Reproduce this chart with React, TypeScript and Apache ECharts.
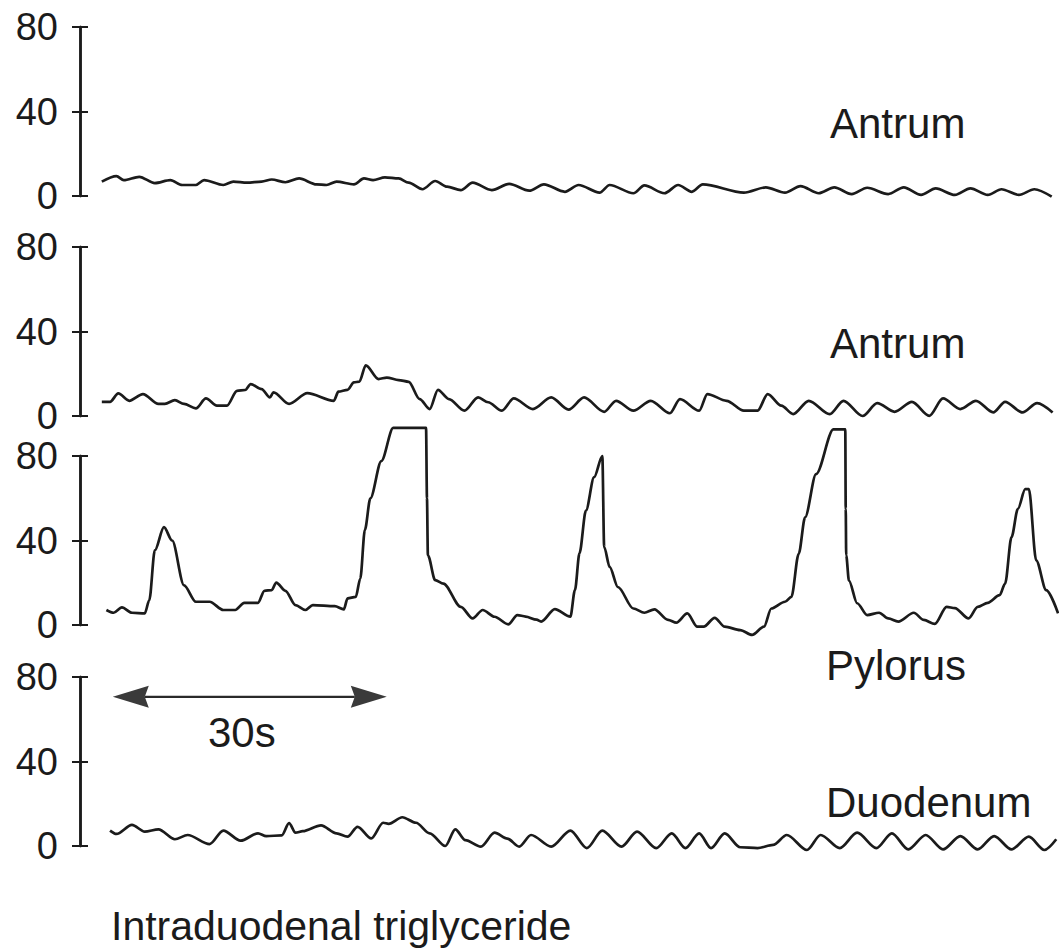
import React, { useEffect, useRef } from "react";
import * as echarts from "echarts";

// ---- data ----
const panelNames = ["Antrum", "Antrum", "Pylorus", "Duodenum"];
const yTicks = [0, 40, 80];
const timeSpan = [0, 105]; // seconds
const scaleBarStart = 1.4; // s
const scaleBarSeconds = 30;
const scaleBarLevel = 70.6; // mmHg, in duodenum panel
const scaleBarLabel = "30s";
const footnote = "Intraduodenal triglyceride";

// [time (s), pressure (mmHg)]
const antrum1: [number, number][] = [
  [0.2, 6.8], [1.8, 9.4], [2.6, 7.5], [4.3, 9.1], [6.0, 6.1], [7.7, 7.5], [9.0, 5.2], [10.5, 5.2],
  [11.4, 7.5], [13.5, 5.2], [14.6, 6.8], [16.1, 6.3], [17.7, 6.8], [18.8, 7.8], [20.3, 6.5], [21.8, 8.3],
  [23.7, 5.5], [24.8, 5.2], [25.9, 6.8], [27.8, 5.5], [28.9, 8.3], [29.9, 7.5], [31.2, 8.8], [32.7, 8.3],
  [33.8, 6.3], [35.3, 3.2], [36.7, 7.1], [38.0, 4.4], [39.5, 2.8], [40.8, 6.3], [42.9, 2.8], [44.8, 5.7],
  [47.0, 2.5], [48.6, 5.5], [50.9, 2.0], [52.4, 5.2], [54.7, 1.6], [55.8, 5.2], [58.4, 1.3], [59.6, 5.0],
  [61.8, 1.3], [63.3, 5.2], [64.8, 2.0], [66.0, 5.5], [70.5, 1.6], [72.9, 4.1], [75.0, 1.6], [76.7, 4.7],
  [78.7, 1.3], [80.4, 4.1], [82.3, 0.9], [84.0, 3.9], [86.3, 0.9], [88.0, 4.1], [89.9, 0.5], [91.5, 3.6],
  [93.6, 0.5], [95.3, 3.6], [97.2, 0.5], [98.7, 3.2], [100.6, 0.5], [102.3, 3.2], [104.2, -0.3],
];

const antrum2: [number, number][] = [
  [0.2, 6.7], [1.1, 6.7], [2.0, 10.7], [3.2, 7.2], [4.7, 10.4], [6.4, 5.7], [7.1, 5.7], [8.2, 7.5],
  [9.2, 5.7], [10.5, 3.6], [11.6, 8.3], [12.8, 4.9], [13.9, 4.9], [15.0, 11.9], [15.9, 12.3], [16.5, 15.1],
  [17.7, 12.7], [18.6, 8.8], [19.0, 11.2], [20.7, 5.7], [22.7, 10.8], [25.6, 7.2], [26.1, 11.5], [27.1, 12.4],
  [27.8, 15.9], [28.4, 16.3], [29.1, 24.0], [30.5, 17.5], [31.4, 18.2], [32.7, 17.0], [33.8, 16.2], [35.0, 8.0],
  [36.1, 3.3], [37.0, 12.4], [38.2, 8.0], [39.9, 2.5], [41.4, 8.8], [42.5, 6.5], [44.0, 2.5], [45.3, 8.3],
  [47.4, 3.3], [49.4, 8.8], [51.3, 3.0], [53.0, 8.8], [55.2, 2.0], [56.5, 7.2], [58.4, 2.5], [60.3, 7.2],
  [62.4, 1.3], [63.5, 8.0], [65.6, 2.5], [66.5, 10.4], [68.6, 7.2], [70.5, 2.5], [72.0, 2.5], [73.1, 10.4],
  [74.6, 4.9], [75.9, 0.9], [77.6, 7.2], [79.9, 0.9], [81.4, 7.2], [83.5, 0.0], [85.1, 6.1], [87.0, 2.0],
  [88.9, 6.7], [90.8, 0.1], [92.3, 8.3], [94.2, 3.3], [95.9, 7.2], [97.8, 1.7], [99.1, 6.7], [101.0, 1.7],
  [102.6, 6.1], [104.3, 1.7],
];

const pylorus: [number, number][] = [
  [0.7, 7.1], [1.5, 5.8], [2.4, 8.3], [3.5, 5.8], [4.9, 5.5], [5.4, 11.8], [6.0, 35.3], [7.0, 46.3],
  [7.9, 40.0], [9.2, 18.8], [10.5, 11.0], [12.0, 11.0], [13.5, 7.1], [14.8, 7.1], [15.8, 10.5], [17.3, 10.5],
  [18.0, 16.2], [18.8, 16.5], [19.3, 20.1], [20.3, 16.2], [21.4, 9.4], [22.5, 7.1], [23.3, 9.4], [25.7, 8.9],
  [26.7, 7.4], [27.1, 12.6], [28.0, 13.3], [28.5, 22.0], [29.0, 45.0], [29.6, 60.0], [30.8, 77.6], [32.1, 93.3],
  [35.7, 93.3], [35.8, 60.0], [35.9, 33.0], [36.7, 21.2], [37.6, 19.6], [39.5, 8.6], [40.8, 3.1], [41.9, 7.1],
  [43.2, 3.9], [44.7, 0.3], [45.7, 4.7], [46.6, 4.0], [47.8, 2.5], [48.3, 1.6], [49.8, 7.5], [51.5, 3.9],
  [52.0, 16.5], [52.5, 34.0], [53.2, 54.1], [54.1, 70.0], [55.0, 80.0], [55.2, 37.0], [55.8, 27.5], [56.7, 18.0],
  [58.4, 7.8], [59.6, 5.8], [60.7, 7.4], [62.2, 2.4], [63.1, 1.1], [64.3, 5.5], [65.4, -0.8], [66.1, -0.8],
  [67.3, 3.4], [68.4, -0.8], [70.1, -2.4], [71.4, -4.7], [72.7, -0.8], [73.5, 7.8], [75.0, 11.0], [75.7, 13.3],
  [76.5, 33.7], [77.2, 51.0], [78.4, 71.4], [80.3, 92.6], [81.6, 92.6], [81.65, 55.0], [81.7, 33.0], [82.0, 21.0],
  [82.9, 10.3], [84.0, 4.7], [85.3, 5.8], [86.3, 3.1], [87.4, 1.6], [89.1, 5.8], [90.2, 2.4], [91.4, 0.5],
  [92.7, 8.6], [93.6, 8.0], [95.1, 3.1], [96.1, 8.6], [97.2, 10.5], [98.5, 14.1], [99.1, 19.6], [99.8, 41.6],
  [100.5, 55.0], [101.3, 64.3], [101.7, 64.3], [102.5, 30.6], [103.6, 16.5], [104.9, 5.5],
];

const duodenum: [number, number][] = [
  [1.1, 7.3], [1.8, 5.7], [3.5, 10.0], [4.9, 6.8], [6.4, 7.9], [8.2, 3.2], [9.6, 5.2], [12.0, 0.9],
  [13.5, 7.3], [15.4, 2.5], [17.3, 6.0], [18.2, 4.7], [19.9, 5.0], [20.7, 10.8], [21.4, 6.3], [22.2, 7.0],
  [24.2, 9.8], [25.9, 6.0], [27.1, 4.4], [28.2, 9.1], [29.7, 3.6], [31.0, 11.0], [31.6, 10.5], [33.1, 13.6],
  [34.6, 11.0], [36.1, 6.0], [37.8, 0.0], [38.9, 7.9], [40.0, 2.8], [41.7, -0.3], [43.2, 6.3], [44.6, 3.5],
  [45.9, -0.3], [47.2, 5.2], [49.4, -0.3], [51.5, 7.3], [53.3, -1.0], [55.0, 7.3], [57.1, -0.3], [58.8, 6.8],
  [60.9, -1.0], [62.6, 6.0], [64.1, -1.0], [65.6, 6.0], [66.9, -1.0], [68.4, 6.0], [70.1, -0.6], [72.0, -1.0],
  [73.7, 0.5], [75.2, 5.2], [77.4, -1.9], [78.9, 5.2], [81.0, -1.0], [82.9, 6.3], [85.0, -1.0], [86.7, 6.0],
  [88.5, -1.6], [90.4, 5.2], [92.3, -1.6], [94.2, 4.7], [96.1, -1.6], [97.9, 4.7], [99.8, -1.6], [101.7, 4.4],
  [103.4, -1.9], [104.7, 3.2],
];

const traces = [antrum1, antrum2, pylorus, duodenum];

// ---- layout / style ----
const W = 1059;
const H = 952;
const GRID_TOPS = [27, 247, 456, 677];
const GRID_H = 169;
const GRID_LEFT = 100;
const GRID_W = 959;
const INK = "#1b1b1b";
const FONT = "'Liberation Sans', Arial, Helvetica, sans-serif";
const HEAD_LEN = 36;
const HEAD_HALF = 11;
const HEAD_NOTCH = 4;

export default function App() {
  const ref = useRef<HTMLDivElement>(null);

  useEffect(() => {
    if (!ref.current) return;
    const chart = echarts.init(ref.current, null, { renderer: "svg", width: W, height: H });

    const grids = GRID_TOPS.map((top) => ({ left: GRID_LEFT, top, width: GRID_W, height: GRID_H }));
    const xAxes = GRID_TOPS.map((_, i) => ({
      type: "value",
      gridIndex: i,
      min: timeSpan[0],
      max: timeSpan[1],
      show: false,
    }));
    const yAxes: any[] = [];
    GRID_TOPS.forEach((_, i) => {
      const base = {
        type: "value",
        gridIndex: i,
        min: yTicks[0],
        max: yTicks[yTicks.length - 1],
        interval: yTicks[1] - yTicks[0],
        position: "left",
        offset: 20,
        splitLine: { show: false },
        axisLine: { show: true, onZero: false, lineStyle: { color: INK, width: 2.5 } },
      };
      yAxes.push({
        ...base,
        axisTick: { show: true, inside: false, length: 8, lineStyle: { color: INK, width: 2 } },
        axisLabel: {
          show: true,
          margin: 22,
          color: INK,
          fontSize: 38,
          fontFamily: FONT,
          formatter: (v: number) => (yTicks.includes(v) ? String(v) : ""),
        },
      });
      yAxes.push({
        ...base,
        axisTick: { show: true, inside: true, length: 8, lineStyle: { color: INK, width: 2 } },
        axisLabel: { show: false },
      });
    });

    const series: any[] = traces.map((data, i) => ({
      type: "line",
      xAxisIndex: i,
      yAxisIndex: i * 2,
      data,
      symbol: "none",
      smooth: 0.3,
      smoothMonotone: "x",
      clip: false,
      silent: true,
      lineStyle: { color: INK, width: 2.7 },
    }));

    // 30 s scale bar with arrowheads, placed through the duodenum panel's axes
    series.push({
      type: "custom",
      xAxisIndex: 3,
      yAxisIndex: 6,
      clip: false,
      silent: true,
      data: [[scaleBarStart, scaleBarStart + scaleBarSeconds, scaleBarLevel]],
      encode: { x: [0, 1], y: 2 },
      renderItem: (_params: any, api: any) => {
        const p1 = api.coord([api.value(0), api.value(2)]);
        const p2 = api.coord([api.value(1), api.value(2)]);
        const y = p1[1];
        return {
          type: "group",
          children: [
            {
              type: "line",
              shape: { x1: p1[0] + HEAD_LEN - HEAD_NOTCH, y1: y, x2: p2[0] - HEAD_LEN + HEAD_NOTCH, y2: y },
              style: { stroke: "#2a2a2a", lineWidth: 2.4 },
            },
            {
              type: "polygon",
              shape: {
                points: [
                  [p1[0], y],
                  [p1[0] + HEAD_LEN, y - HEAD_HALF],
                  [p1[0] + HEAD_LEN - HEAD_NOTCH, y],
                  [p1[0] + HEAD_LEN, y + HEAD_HALF],
                ],
              },
              style: { fill: "#3a3a3a" },
            },
            {
              type: "polygon",
              shape: {
                points: [
                  [p2[0], y],
                  [p2[0] - HEAD_LEN, y - HEAD_HALF],
                  [p2[0] - HEAD_LEN + HEAD_NOTCH, y],
                  [p2[0] - HEAD_LEN, y + HEAD_HALF],
                ],
              },
              style: { fill: "#3a3a3a" },
            },
          ],
        };
      },
    });

    const labelText = (text: string, x: number, baseline: number, size = 42) => ({
      type: "text",
      x,
      y: baseline - 0.347 * size,
      silent: true,
      style: {
        text,
        fill: INK,
        font: `${size}px ${FONT}`,
        textAlign: "left",
        textVerticalAlign: "middle",
      },
    });

    const graphic = [
      labelText(panelNames[0], 830, 138),
      labelText(panelNames[1], 830, 358),
      labelText(panelNames[2], 826, 680),
      labelText(panelNames[3], 826, 817),
      labelText(scaleBarLabel, 208, 747),
      labelText(footnote, 111, 940, 41),
    ];

    chart.setOption({
      animation: false,
      backgroundColor: "#ffffff",
      grid: grids,
      xAxis: xAxes,
      yAxis: yAxes,
      series,
      graphic,
    });

    return () => chart.dispose();
  }, []);

  return (
    <div
      ref={ref}
      style={{ position: "absolute", left: 0, top: 0, width: W, height: H, background: "#fff" }}
    />
  );
}
